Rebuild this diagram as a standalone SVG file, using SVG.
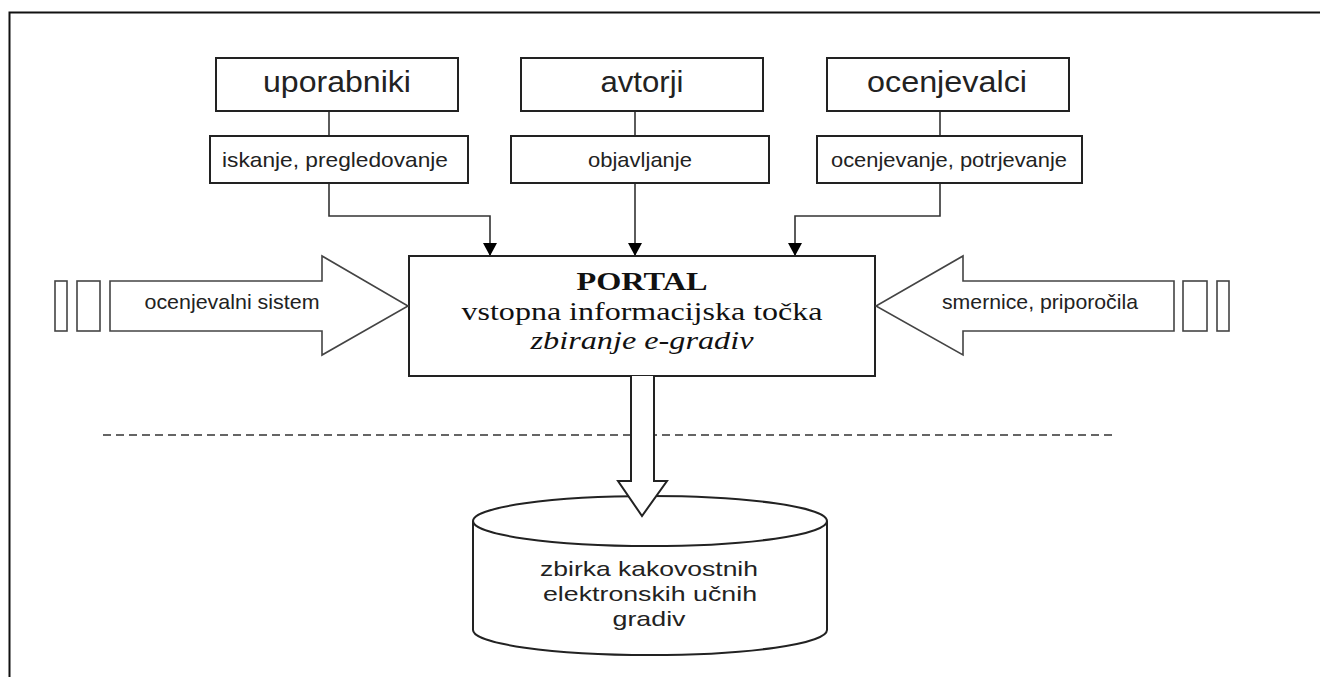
<svg xmlns="http://www.w3.org/2000/svg" width="1320" height="677" viewBox="0 0 1320 677">
<style>
.box{fill:#fff;stroke:#222;stroke-width:2}
.thin{fill:#fff;stroke:#444;stroke-width:1.6}
.ln{fill:none;stroke:#333;stroke-width:1.6}
.lbl{font-family:"Liberation Sans",Arial,sans-serif;fill:#222;text-anchor:middle}
.big{font-size:29px}
.mid{font-size:21px}
.serif{font-family:"Liberation Serif","Times New Roman",serif;fill:#111;text-anchor:middle;font-size:26px}
</style>
<defs>
<marker id="ah" markerWidth="14" markerHeight="14" refX="13" refY="7" orient="auto" markerUnits="userSpaceOnUse">
<path d="M0,0 L13,7 L0,14 Z" fill="#000"/>
</marker>
</defs>
<rect width="1320" height="677" fill="#fff"/>
<path d="M9.5,677 V12.5 H1320" fill="none" stroke="#111" stroke-width="2"/>

<g id="connectors">
<line x1="329" y1="111" x2="329" y2="136" class="ln"/>
<line x1="635" y1="111" x2="635" y2="136" class="ln"/>
<line x1="940" y1="111" x2="940" y2="136" class="ln"/>
<path d="M329,183 V216 H490 V256" class="ln" marker-end="url(#ah)"/>
<path d="M635,183 V256" class="ln" marker-end="url(#ah)"/>
<path d="M940,183 V216 H795 V256" class="ln" marker-end="url(#ah)"/>
<line x1="103" y1="435" x2="1117" y2="435" stroke="#333" stroke-width="1.6" stroke-dasharray="8,5"/>
</g>

<g id="uporabniki"><rect x="216" y="58" width="242" height="53" class="box"/><text x="337" y="92" class="lbl big" textLength="148" lengthAdjust="spacingAndGlyphs">uporabniki</text></g>
<g id="avtorji"><rect x="521" y="58" width="242" height="53" class="box"/><text x="642" y="92" class="lbl big" textLength="83" lengthAdjust="spacingAndGlyphs">avtorji</text></g>
<g id="ocenjevalci"><rect x="827" y="58" width="242" height="53" class="box"/><text x="947" y="92" class="lbl big" textLength="160" lengthAdjust="spacingAndGlyphs">ocenjevalci</text></g>

<g id="iskanje"><rect x="210" y="136" width="258" height="47" class="box"/><text x="335" y="167" class="lbl mid" textLength="226" lengthAdjust="spacingAndGlyphs">iskanje, pregledovanje</text></g>
<g id="objavljanje"><rect x="511" y="136" width="258" height="47" class="box"/><text x="640" y="167" class="lbl mid" textLength="104" lengthAdjust="spacingAndGlyphs">objavljanje</text></g>
<g id="ocenjevanje"><rect x="817" y="136" width="265" height="47" class="box"/><text x="949" y="167" class="lbl mid" textLength="236" lengthAdjust="spacingAndGlyphs">ocenjevanje, potrjevanje</text></g>

<g id="portal">
<rect x="409" y="256" width="466" height="120" class="box"/>
<text x="642" y="290" class="serif" font-weight="bold" textLength="131" lengthAdjust="spacingAndGlyphs">PORTAL</text>
<text x="642" y="320" class="serif" textLength="361" lengthAdjust="spacingAndGlyphs">vstopna informacijska točka</text>
<text x="642" y="349" class="serif" font-style="italic" textLength="223" lengthAdjust="spacingAndGlyphs">zbiranje e-gradiv</text>
</g>

<g id="ocenjevalni-sistem">
<rect x="55" y="281" width="12" height="50" class="thin"/>
<rect x="77" y="281" width="23" height="50" class="thin"/>
<path d="M110,281 H322 V256 L408,306 L322,355 V331 H110 Z" class="thin"/>
<text x="232" y="309" class="lbl mid" textLength="175" lengthAdjust="spacingAndGlyphs">ocenjevalni sistem</text>
</g>

<g id="smernice">
<rect x="1217" y="281" width="12" height="50" class="thin"/>
<rect x="1183" y="281" width="24" height="50" class="thin"/>
<path d="M1174,281 H963 V256 L876,306 L963,355 V331 H1174 Z" class="thin"/>
<text x="1040" y="309" class="lbl mid" textLength="196" lengthAdjust="spacingAndGlyphs">smernice, priporočila</text>
</g>

<g id="zbirka">
<path d="M473,521 V630 A177,25 0 0 0 827,630 V521" class="box"/>
<ellipse cx="650" cy="521" rx="177" ry="25" class="box"/>
<text x="649" y="576" class="lbl" font-size="21" textLength="218" lengthAdjust="spacingAndGlyphs">zbirka kakovostnih</text>
<text x="650" y="601" class="lbl" font-size="21" textLength="214" lengthAdjust="spacingAndGlyphs">elektronskih učnih</text>
<text x="649" y="626" class="lbl" font-size="21" textLength="73" lengthAdjust="spacingAndGlyphs">gradiv</text>
</g>

<g id="down-arrow">
<path d="M631,376 V481 H618 L642,516 L667,481 H654 V376" fill="#fff" stroke="#222" stroke-width="2"/>
</g>
</svg>
